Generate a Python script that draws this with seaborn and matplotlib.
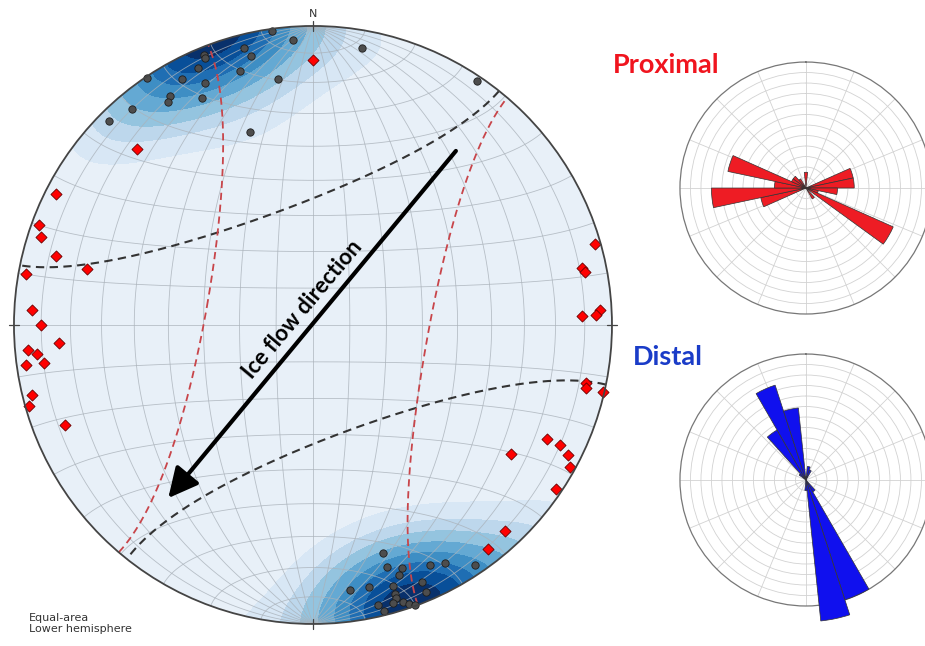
import numpy as np
import pandas as pd
import matplotlib
matplotlib.use("Agg")
import matplotlib.pyplot as plt
from matplotlib.patches import Circle
import seaborn as sns

sns.set_style("white")
plt.rcParams["font.family"] = ["Lato", "DejaVu Sans"]

# ── Data: poles (dark circles), trend / plunge in degrees ─────────────────────
pole_trend = [352, 356, 346, 347, 338, 338, 336, 344, 326, 332, 336, 352, 328, 327, 334, 320, 315, 342, 10, 34,
              163, 163, 160, 161, 154, 151, 146, 172, 168, 163, 157, 157, 163, 163, 167, 164, 162, 161, 160, 166]
pole_plunge = [1, 5, 5, 8.5, 3, 4, 6.5, 12.5, 0.5, 7.5, 12.5, 18, 10.5, 12, 16.5, 6.5, 4, 32.5, 6.5, 2,
               21.5, 16.5, 14.5, 12.5, 11.5, 10, 3.5, 11.5, 11.5, 9.5, 7.5, 3.5, 6.5, 5, 4.5, 3.5, 3, 1.5, 0.5, 1.5]

# lineations (red diamonds)
lin_trend = [0, 315, 297, 290, 288, 285, 284, 280, 273, 270, 266, 265, 264, 262, 262, 256, 254, 248,
             74, 78, 79, 87, 88, 88, 102, 103, 103, 116, 116, 117, 123, 119, 124, 137, 142]
lin_plunge = [12.5, 18, 4, 3, 5, 12, 23, 3, 6.5, 10, 16, 5, 8, 10, 3.5, 3.5, 1.5, 11.5,
              2, 9, 8, 4.5, 6, 11, 7.5, 7, 0.5, 14, 9, 5, 22, 2, 2, 6.5, 5.5]

# small circles (cones): axis trend, axis plunge, half-angle
cone_trend = [160, 280]
cone_plunge = [1, 1]
cone_angle = [58.5, 59.5]
cone_color = ["#333333", "#c8454a"]

# rose diagrams, 12 degree bins (centre, count)
prox_dir = [0, 72, 84, 96, 108, 120, 144, 252, 264, 276, 288, 300, 312, 324]
prox_len = [1.5, 4.6, 4.6, 3.0, 1.2, 9.1, 1.2, 4.4, 9.0, 3.0, 7.6, 1.5, 1.5, 1.0]
dist_dir = [12, 24, 144, 156, 168, 180, 312, 324, 336, 348]
dist_len = [1.3, 1.0, 1.3, 12.0, 13.5, 1.0, 0.8, 5.5, 9.5, 6.9]

flow_arrow = [(0.478, 0.582), (-0.484, -0.579)]   # tail, head (net coordinates)


def unit(trend, plunge):
    t = np.radians(np.asarray(trend, float))
    p = np.radians(np.asarray(plunge, float))
    return np.column_stack([np.cos(p) * np.sin(t), np.cos(p) * np.cos(t), np.sin(p)])


def project(v):
    # equal-area, lower hemisphere
    v = np.where(v[:, 2:3] < 0, -v, v)
    s = np.sqrt(1 + v[:, 2])
    return v[:, 0] / s, v[:, 1] / s


def cone(trend, plunge, angle, n=1441):
    a = unit([trend], [plunge])[0]
    b = np.array([0, 0, 1.0]) - a[2] * a
    b /= np.linalg.norm(b)
    c = np.cross(a, b)
    phi = np.linspace(0, 2 * np.pi, n)
    al = np.radians(angle)
    v = np.cos(al) * a + np.sin(al) * (np.outer(np.cos(phi), b) + np.outer(np.sin(phi), c))
    up = v[:, 2] < 0
    x, y = project(v)
    cut = np.where(np.diff(up))[0] + 1
    return np.insert(x, cut, np.nan), np.insert(y, cut, np.nan)


fig = plt.figure(figsize=(9.25, 6.46), dpi=100)

# ── Stereonet ────────────────────────────────────────────────────────────────
ax = fig.add_axes([0.0151, 0.0341, 0.6465, 0.9257])
ax.set_xlim(-1, 1)
ax.set_ylim(-1, 1)
ax.set_aspect("equal")
ax.axis("off")

prim = Circle((0, 0), 1, facecolor="#e8f0f8", edgecolor="none", zorder=0)
ax.add_patch(prim)

# density of poles (axial exponential kernel)
g = np.linspace(-1.02, 1.02, 361)
gx, gy = np.meshgrid(g, g)
d = 1 - (gx ** 2 + gy ** 2)
s = np.sqrt(np.clip(1 + d, 0, None))
gv = np.stack([gx * s, gy * s, d], axis=-1).reshape(-1, 3)
poles = unit(pole_trend, pole_plunge)
dens = np.exp(26 * (np.abs(gv @ poles.T) - 1)).sum(axis=1).reshape(gx.shape)
levels = dens.max() * np.array([0.1, 0.2, 0.3, 0.42, 0.55, 0.68, 0.8, 0.92, 1.01])
cols = plt.get_cmap("Blues")(np.linspace(0.16, 1.0, len(levels) - 1))
cf = ax.contourf(gx, gy, dens, levels=levels, colors=cols, zorder=1)
cf.set_clip_path(prim)

# grid (10 degrees)
tt = np.radians(np.linspace(-90, 90, 361))
for deg in range(-80, 81, 10):
    r = np.radians(deg)
    gx1, gy1 = project(np.column_stack([np.cos(tt) * np.sin(r), np.sin(tt), np.cos(tt) * np.cos(r)]))
    gx2, gy2 = project(np.column_stack([np.cos(r) * np.sin(tt), np.full_like(tt, np.sin(r)), np.cos(r) * np.cos(tt)]))
    ax.plot(gx1, gy1, color="#aab2ba", lw=0.6, alpha=0.8, zorder=2)
    ax.plot(gx2, gy2, color="#aab2ba", lw=0.6, alpha=0.8, zorder=2)

ax.add_patch(Circle((0, 0), 1, fill=False, edgecolor="#444444", lw=1.3, zorder=6, clip_on=False))
for ang in np.radians([0, 90, 180, 270]):
    ax.plot([0.982 * np.sin(ang), 1.018 * np.sin(ang)], [0.982 * np.cos(ang), 1.018 * np.cos(ang)],
            color="#444444", lw=0.9, zorder=6, clip_on=False)
ax.text(0, 1.022, "N", ha="center", va="bottom", fontsize=8, color="#333333",
        family="DejaVu Sans")

for tr, pl, an, col in zip(cone_trend, cone_plunge, cone_angle, cone_color):
    cx, cy = cone(tr, pl, an)
    ax.plot(cx, cy, color=col, lw=1.5 if col == "#333333" else 1.3, ls=(0, (4, 2.6)), zorder=3)

px, py = project(poles)
sns.scatterplot(x=px, y=py, ax=ax, s=28, color="#4d4d4d", edgecolor="#1e1e1e", linewidth=0.6,
                zorder=5, legend=False)
lx, ly = project(unit(lin_trend, lin_plunge))
sns.scatterplot(x=lx, y=ly, ax=ax, marker="D", s=32, color="#ff0000", edgecolor="#6a0000",
                linewidth=0.6, zorder=5, legend=False)
ax.set_xlim(-1, 1)
ax.set_ylim(-1, 1)

ax.annotate("", xy=flow_arrow[1], xytext=flow_arrow[0],
            arrowprops=dict(arrowstyle="-|>,head_length=0.9,head_width=0.45", lw=3, color="black",
                            mutation_scale=20, shrinkA=0, shrinkB=0), zorder=7)
ax.text(-0.035, 0.05, "Ice flow direction", rotation=50, rotation_mode="anchor", ha="center",
        va="center", fontsize=16, fontweight="bold", color="black", zorder=7)

fig.text(0.031, 0.0511, "Equal-area\nLower hemisphere", ha="left", va="top", fontsize=8,
         color="#333333", linespacing=1.15, family="DejaVu Sans")

# ── Rose diagrams ────────────────────────────────────────────────────────────
def rose(rect, dirs, lens, colour):
    rx = fig.add_axes(rect, projection="polar")
    rx.set_theta_zero_location("N")
    rx.set_theta_direction(-1)
    rx.bar(np.radians(dirs), lens, width=np.radians(12), color=colour, edgecolor="#333333",
           linewidth=0.5, zorder=3, clip_on=False)
    rx.set_ylim(0, 12)
    rx.set_yticks(np.arange(1, 12))
    rx.set_yticklabels([])
    rx.set_xticks(np.radians(np.arange(0, 360, 22.5)))
    rx.set_xticklabels([])
    rx.grid(color="#d2d2d2", lw=0.6)
    rx.spines["polar"].set_color("#777777")
    rx.spines["polar"].set_linewidth(0.9)
    rx.set_facecolor("white")
    return rx

rose([0.7351, 0.5139, 0.2724, 0.3901], prox_dir, prox_len, "#ee1c24")
rose([0.7351, 0.0619, 0.2724, 0.3901], dist_dir, dist_len, "#1010ee")

fig.text(0.6627, 0.887, "Proximal", color="#f0141e", fontsize=19.5, fontweight="bold",
         ha="left", va="baseline")
fig.text(0.6843, 0.435, "Distal", color="#1a3cc8", fontsize=19.5, fontweight="bold",
         ha="left", va="baseline")

fig.savefig("out.png", dpi=100, facecolor="white")
